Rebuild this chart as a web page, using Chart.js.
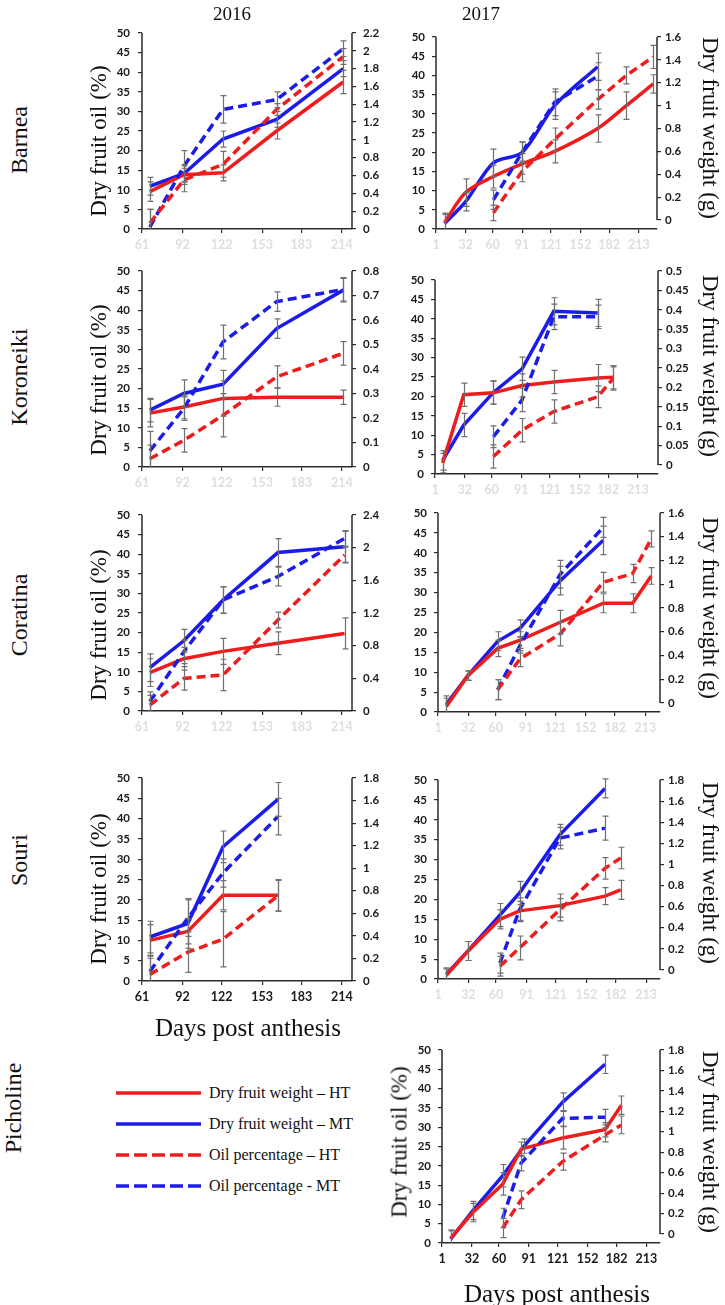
<!DOCTYPE html>
<html><head><meta charset="utf-8">
<script src="https://cdn.jsdelivr.net/npm/chart.js@4.4.1/dist/chart.umd.min.js"></script>
<style>
html,body{margin:0;padding:0;background:#fff;}
body{width:725px;height:1305px;position:relative;overflow:hidden;}
canvas{position:absolute;}
.t{position:absolute;white-space:nowrap;font-family:"Liberation Serif","Times New Roman",serif;color:#111;transform:translate(-50%,-50%);line-height:1;z-index:5;}
.rl{transform:translate(-50%,-50%) rotate(-90deg);}
.rr{transform:translate(-50%,-50%) rotate(90deg);}
.lg{position:absolute;font-family:"Liberation Serif","Times New Roman",serif;font-size:16px;color:#111;white-space:nowrap;line-height:1;transform:translateY(-50%);}
svg{position:absolute;}
</style></head><body>

<div class="t" style="left:232px;top:13px;font-size:19px;">2016</div>
<div class="t" style="left:481px;top:13px;font-size:19px;">2017</div>

<div class="t rl" style="left:19px;top:140px;font-size:24px;">Barnea</div>
<div class="t rl" style="left:19px;top:377px;font-size:24px;">Koroneiki</div>
<div class="t rl" style="left:19px;top:615px;font-size:24px;">Coratina</div>
<div class="t rl" style="left:19px;top:860px;font-size:24px;">Souri</div>
<div class="t rl" style="left:13px;top:1108px;font-size:24px;">Picholine</div>

<div class="t rl" style="left:98px;top:141px;font-size:23px;">Dry fruit oil (%)</div>
<div class="t rl" style="left:98px;top:380px;font-size:23px;">Dry fruit oil (%)</div>
<div class="t rl" style="left:98px;top:625px;font-size:23px;">Dry fruit oil (%)</div>
<div class="t rl" style="left:98px;top:889px;font-size:23px;">Dry fruit oil (%)</div>
<div class="t rl" style="left:399px;top:1142px;font-size:23px;">Dry fruit oil (%)</div>

<div class="t rr" style="left:710px;top:128px;font-size:23px;">Dry fruit weight (g)</div>
<div class="t rr" style="left:710px;top:366px;font-size:23px;">Dry fruit weight (g)</div>
<div class="t rr" style="left:710px;top:608px;font-size:23px;">Dry fruit weight (g)</div>
<div class="t rr" style="left:710px;top:873px;font-size:23px;">Dry fruit weight (g)</div>
<div class="t rr" style="left:710px;top:1142px;font-size:23px;">Dry fruit weight (g)</div>

<div class="t" style="left:248px;top:1027px;font-size:25px;">Days post anthesis</div>
<div class="t" style="left:557px;top:1293px;font-size:25px;">Days post anthesis</div>

<svg style="left:110px;top:1080px;" width="100" height="120">
  <line x1="6" y1="13" x2="91" y2="13" stroke="#ee1c1c" stroke-width="3.5"/>
  <line x1="6" y1="44" x2="91" y2="44" stroke="#1c1ce8" stroke-width="3.5"/>
  <line x1="6" y1="75" x2="91" y2="75" stroke="#ee1c1c" stroke-width="3.5" stroke-dasharray="13 5"/>
  <line x1="6" y1="106" x2="91" y2="106" stroke="#1c1ce8" stroke-width="3.5" stroke-dasharray="13 5"/>
</svg>
<div class="lg" style="left:209px;top:1093px;">Dry fruit weight – HT</div>
<div class="lg" style="left:209px;top:1124px;">Dry fruit weight – MT</div>
<div class="lg" style="left:209px;top:1155px;">Oil percentage – HT</div>
<div class="lg" style="left:209px;top:1186px;">Oil percentage - MT</div>

<script>
// ---------- axis tick labels ----------
const X_TICKS_2016 = [61, 92, 122, 153, 183, 214];
const X_TICKS_2017 = [1, 32, 60, 91, 121, 152, 182, 213];
const OIL_TICKS = [0, 5, 10, 15, 20, 25, 30, 35, 40, 45, 50];

// ---------- Barnea 2016 ----------
const BAR16_DAYS = [67, 93, 123, 164, 215];
const BAR16_WT_HT = [0.42, 0.61, 0.63, 1.10, 1.65];
const BAR16_WT_HT_SD = [0.11, 0.11, 0.09, 0.09, 0.13];
const BAR16_WT_MT = [0.48, 0.62, 1.01, 1.23, 1.80];
const BAR16_WT_MT_SD = [0.10, 0.09, 0.09, 0.09, 0.09];
const BAR16_OIL_HT = [1.5, 12.5, 16.5, 30.5, 44];
const BAR16_OIL_HT_SD = [3.5, 3, 3.3, 1.5, 2];
const BAR16_OIL_MT = [0.5, 16, 30.5, 33, 46];
const BAR16_OIL_MT_SD = [4.5, 4, 3.5, 2, 2];

// ---------- Koroneiki 2016 ----------
const KOR16_DAYS = [67, 93, 123, 164, 215];
const KOR16_WT_HT = [0.22, 0.245, 0.28, 0.285, 0.285];
const KOR16_WT_HT_SD = [0.056, 0.048, 0.072, 0.037, 0.029];
const KOR16_WT_MT = [0.232, 0.30, 0.338, 0.565, 0.722];
const KOR16_WT_MT_SD = [0.048, 0.056, 0.056, 0.04, 0.048];
const KOR16_OIL_HT = [2.1, 6.8, 13.2, 23, 29];
const KOR16_OIL_HT_SD = [3.5, 3, 5.5, 2.8, 3];
const KOR16_OIL_MT = [4.1, 14.9, 31.9, 42.2, 45.3];
const KOR16_OIL_MT_SD = [5, 3, 4.3, 2.5, 3];

// ---------- Coratina 2016 ----------
const COR16_DAYS = [67, 93, 123, 165, 216];
const COR16_WT_HT = [0.47, 0.64, 0.73, 0.83, 0.95];
const COR16_WT_HT_SD = [0.17, 0.14, 0.16, 0.14, 0.19];
const COR16_WT_MT = [0.53, 0.86, 1.36, 1.94, 2.01];
const COR16_WT_MT_SD = [0.17, 0.14, 0.16, 0.17, 0.19];
const COR16_OIL_HT = [1.5, 8.3, 9.2, 23.2, 39.8];
const COR16_OIL_HT_SD = [2.5, 3, 4, 2, 2];
const COR16_OIL_MT = [2.4, 15.1, 28.3, 34.3, 44];
const COR16_OIL_MT_SD = [2.5, 3, 3.4, 2.4, 2];

// ---------- Souri 2016 ----------
const SOU16_DAYS = [67, 96, 123, 165];
const SOU16_WT_HT = [0.36, 0.44, 0.76, 0.76];
const SOU16_WT_HT_SD = [0.14, 0.11, 0.13, 0.14];
const SOU16_WT_MT = [0.39, 0.51, 1.19, 1.61];
const SOU16_WT_MT_SD = [0.14, 0.22, 0.14, 0.15];
const SOU16_OIL_HT = [1.6, 7.1, 10.3, 21];
const SOU16_OIL_HT_SD = [4, 5, 6.8, 3.8];
const SOU16_OIL_MT = [2.3, 15.5, 26.6, 40.5];
const SOU16_OIL_MT_SD = [4, 4.5, 3.5, 4.5];

// ---------- Barnea 2017 ----------
const BAR17_WT_HT_DAYS = [10, 32, 61, 91, 125, 170, 200, 228];
const BAR17_WT_HT = [-0.02, 0.24, 0.38, 0.49, 0.60, 0.80, 1.00, 1.19];
const BAR17_WT_HT_SD = [0.08, 0.12, 0.10, 0.09, 0.10, 0.12, 0.12, 0.08];
const BAR17_WT_MT_DAYS = [10, 32, 61, 91, 125, 170];
const BAR17_WT_MT = [-0.03, 0.16, 0.50, 0.59, 1.00, 1.34];
const BAR17_WT_MT_SD = [0.08, 0.08, 0.12, 0.09, 0.12, 0.12];
const BAR17_OIL_HT_DAYS = [61, 91, 125, 170, 200, 228];
const BAR17_OIL_HT = [4.2, 15, 23.3, 33.7, 40, 44.8];
const BAR17_OIL_HT_SD = [2, 2.7, 3, 2.5, 2.2, 3];
const BAR17_OIL_MT_DAYS = [61, 91, 125, 170];
const BAR17_OIL_MT = [7.6, 20, 33, 39.8];
const BAR17_OIL_MT_SD = [2.5, 2.7, 3.5, 3.5];

// ---------- Koroneiki 2017 ----------
const KOR17_WT_HT_DAYS = [9, 31, 62, 92, 125, 171, 187];
const KOR17_WT_HT = [0.005, 0.181, 0.186, 0.205, 0.214, 0.224, 0.226];
const KOR17_WT_HT_SD = [0.025, 0.03, 0.03, 0.03, 0.03, 0.035, 0.03];
const KOR17_WT_MT_DAYS = [9, 31, 62, 92, 125, 171];
const KOR17_WT_MT = [0.012, 0.103, 0.187, 0.248, 0.396, 0.392];
const KOR17_WT_MT_SD = [0.025, 0.03, 0.03, 0.03, 0.035, 0.035];
const KOR17_OIL_HT_DAYS = [62, 92, 125, 171, 187];
const KOR17_OIL_HT = [4.5, 11.3, 16.1, 19.9, 24.6];
const KOR17_OIL_HT_SD = [3, 3, 3, 2.8, 3];
const KOR17_OIL_MT_DAYS = [62, 92, 125, 171];
const KOR17_OIL_MT = [9.6, 19.1, 40.5, 40.5];
const KOR17_OIL_MT_SD = [2.8, 3, 3.3, 3];

// ---------- Coratina 2017 ----------
const COR17_WT_HT_DAYS = [9.5, 31.5, 62, 85, 126, 170, 200, 219];
const COR17_WT_HT = [-0.03, 0.23, 0.46, 0.53, 0.68, 0.84, 0.84, 1.07];
const COR17_WT_HT_SD = [0.07, 0.04, 0.07, 0.07, 0.10, 0.08, 0.08, 0.07];
const COR17_WT_MT_DAYS = [9.5, 31.5, 62, 85, 126, 170];
const COR17_WT_MT = [-0.01, 0.23, 0.52, 0.63, 1.03, 1.37];
const COR17_WT_MT_SD = [0.07, 0.04, 0.08, 0.07, 0.12, 0.12];
const COR17_OIL_HT_DAYS = [62, 85, 126, 170, 200, 219];
const COR17_OIL_HT = [5.6, 13.4, 19.6, 32.6, 34.8, 43.5];
const COR17_OIL_HT_SD = [2.5, 2, 3, 2.5, 2.3, 2];
const COR17_OIL_MT_DAYS = [62, 85, 126, 170];
const COR17_OIL_MT = [5.6, 16.8, 34.6, 46.4];
const COR17_OIL_MT_SD = [2.5, 2, 3.5, 2.5];

// ---------- Souri 2017 ----------
const SOU17_WT_HT_DAYS = [9.5, 31.5, 64, 84, 125, 171, 187];
const SOU17_WT_HT = [-0.05, 0.18, 0.48, 0.56, 0.61, 0.70, 0.76];
const SOU17_WT_HT_SD = [0.06, 0.09, 0.09, 0.09, 0.11, 0.08, 0.09];
const SOU17_WT_MT_DAYS = [9.5, 31.5, 64, 84, 125, 171];
const SOU17_WT_MT = [-0.04, 0.18, 0.52, 0.73, 1.28, 1.72];
const SOU17_WT_MT_SD = [0.06, 0.09, 0.11, 0.11, 0.10, 0.09];
const SOU17_OIL_HT_DAYS = [64, 84, 125, 171, 187];
const SOU17_OIL_HT = [3.2, 7.8, 17.4, 27.8, 30.4];
const SOU17_OIL_HT_SD = [2.5, 3, 2.8, 2.7, 2.7];
const SOU17_OIL_MT_DAYS = [64, 84, 125, 171];
const SOU17_OIL_MT = [4, 17.4, 35.4, 37.9];
const SOU17_OIL_MT_SD = [2.5, 3, 2.7, 3];

// ---------- Picholine 2017 ----------
const PIC17_WT_HT_DAYS = [10, 33, 64, 83, 126, 170, 187];
const PIC17_WT_HT = [-0.04, 0.21, 0.49, 0.83, 0.94, 1.02, 1.26];
const PIC17_WT_HT_SD = [0.08, 0.09, 0.11, 0.07, 0.11, 0.07, 0.09];
const PIC17_WT_MT_DAYS = [10, 33, 64, 86, 126, 170];
const PIC17_WT_MT = [-0.05, 0.23, 0.57, 0.86, 1.29, 1.66];
const PIC17_WT_MT_SD = [0.08, 0.09, 0.11, 0.07, 0.09, 0.09];
const PIC17_OIL_HT_DAYS = [64, 83, 126, 170, 187];
const PIC17_OIL_HT = [3.9, 11.2, 21.1, 28, 30.6];
const PIC17_OIL_HT_SD = [2.5, 2.3, 2.2, 1.8, 2.3];
const PIC17_OIL_MT_DAYS = [64, 83, 126, 170];
const PIC17_OIL_MT = [6.5, 20.7, 32.3, 32.6];
const PIC17_OIL_MT_SD = [2.5, 2, 2, 2];

// ---------- styles ----------
const RED = '#ee1c1c', BLUE = '#1c1ce8';
const STYLE = {
  WT_HT:  {color: RED,  dash: [],     axis: 'y1'},
  WT_MT:  {color: BLUE, dash: [],     axis: 'y1'},
  OIL_HT: {color: RED,  dash: [9, 5], axis: 'y'},
  OIL_MT: {color: BLUE, dash: [9, 5], axis: 'y'}
};
const FADED = '#dedede', DARK = '#1a1a1a';

function S(kind, days, vals, sd) { return {kind, days, vals, sd}; }

// geometry: L/R = plot left/right px, T = top of left axis (50), B = x axis,
// rT / rZ = pixel of right-axis max and right-axis zero
const PANELS = [
  {L:142, R:352, T:33, B:229, rT:33, rZ:229, xMin:61, xMax:221.7, xt:X_TICKS_2016, rMax:2.2, rStep:0.2, xc:FADED, lp:8, rp:7, tension:0,
   series:[S('OIL_HT',BAR16_DAYS,BAR16_OIL_HT,BAR16_OIL_HT_SD), S('OIL_MT',BAR16_DAYS,BAR16_OIL_MT,BAR16_OIL_MT_SD),
           S('WT_HT',BAR16_DAYS,BAR16_WT_HT,BAR16_WT_HT_SD), S('WT_MT',BAR16_DAYS,BAR16_WT_MT,BAR16_WT_MT_SD)]},
  {L:142, R:352, T:271, B:467, rT:271, rZ:467, xMin:61, xMax:221.7, xt:X_TICKS_2016, rMax:0.8, rStep:0.1, xc:FADED, lp:8, rp:7, tension:0,
   series:[S('OIL_HT',KOR16_DAYS,KOR16_OIL_HT,KOR16_OIL_HT_SD), S('OIL_MT',KOR16_DAYS,KOR16_OIL_MT,KOR16_OIL_MT_SD),
           S('WT_HT',KOR16_DAYS,KOR16_WT_HT,KOR16_WT_HT_SD), S('WT_MT',KOR16_DAYS,KOR16_WT_MT,KOR16_WT_MT_SD)]},
  {L:142, R:352, T:515, B:711, rT:515, rZ:711, xMin:61, xMax:221.7, xt:X_TICKS_2016, rMax:2.4, rStep:0.2, xc:FADED, lp:8, rp:7, tension:0,
   series:[S('OIL_HT',COR16_DAYS,COR16_OIL_HT,COR16_OIL_HT_SD), S('OIL_MT',COR16_DAYS,COR16_OIL_MT,COR16_OIL_MT_SD),
           S('WT_HT',COR16_DAYS,COR16_WT_HT,COR16_WT_HT_SD), S('WT_MT',COR16_DAYS,COR16_WT_MT,COR16_WT_MT_SD)]},
  {L:142, R:352, T:778, B:981, rT:778, rZ:981, xMin:61, xMax:221.7, xt:X_TICKS_2016, rMax:1.8, rStep:0.2, xc:DARK, lp:8, rp:7, tension:0,
   series:[S('OIL_HT',SOU16_DAYS,SOU16_OIL_HT,SOU16_OIL_HT_SD), S('OIL_MT',SOU16_DAYS,SOU16_OIL_MT,SOU16_OIL_MT_SD),
           S('WT_HT',SOU16_DAYS,SOU16_WT_HT,SOU16_WT_HT_SD), S('WT_MT',SOU16_DAYS,SOU16_WT_MT,SOU16_WT_MT_SD)]},

  {L:436, R:657, T:37, B:229, rT:37, rZ:220, xMin:1, xMax:232, xt:X_TICKS_2017, rMax:1.6, rStep:0.2, xc:FADED, lp:7, rp:4, tension:0.3,
   series:[S('OIL_HT',BAR17_OIL_HT_DAYS,BAR17_OIL_HT,BAR17_OIL_HT_SD), S('OIL_MT',BAR17_OIL_MT_DAYS,BAR17_OIL_MT,BAR17_OIL_MT_SD),
           S('WT_HT',BAR17_WT_HT_DAYS,BAR17_WT_HT,BAR17_WT_HT_SD), S('WT_MT',BAR17_WT_MT_DAYS,BAR17_WT_MT,BAR17_WT_MT_SD)]},
  {L:435, R:658, T:280, B:474, rT:271, rZ:465, xMin:1, xMax:234, xt:X_TICKS_2017, rMax:0.5, rStep:0.05, xc:FADED, lp:7, rp:4, tension:0,
   series:[S('OIL_HT',KOR17_OIL_HT_DAYS,KOR17_OIL_HT,KOR17_OIL_HT_SD), S('OIL_MT',KOR17_OIL_MT_DAYS,KOR17_OIL_MT,KOR17_OIL_MT_SD),
           S('WT_HT',KOR17_WT_HT_DAYS,KOR17_WT_HT,KOR17_WT_HT_SD), S('WT_MT',KOR17_WT_MT_DAYS,KOR17_WT_MT,KOR17_WT_MT_SD)]},
  {L:438, R:660, T:513, B:712, rT:513, rZ:703, xMin:1, xMax:228, xt:X_TICKS_2017, rMax:1.6, rStep:0.2, xc:FADED, lp:7, rp:4, tension:0,
   series:[S('OIL_HT',COR17_OIL_HT_DAYS,COR17_OIL_HT,COR17_OIL_HT_SD), S('OIL_MT',COR17_OIL_MT_DAYS,COR17_OIL_MT,COR17_OIL_MT_SD),
           S('WT_HT',COR17_WT_HT_DAYS,COR17_WT_HT,COR17_WT_HT_SD), S('WT_MT',COR17_WT_MT_DAYS,COR17_WT_MT,COR17_WT_MT_SD)]},
  {L:438, R:660, T:780, B:979, rT:780, rZ:970, xMin:1, xMax:227, xt:X_TICKS_2017, rMax:1.8, rStep:0.2, xc:FADED, lp:7, rp:4, tension:0,
   series:[S('OIL_HT',SOU17_OIL_HT_DAYS,SOU17_OIL_HT,SOU17_OIL_HT_SD), S('OIL_MT',SOU17_OIL_MT_DAYS,SOU17_OIL_MT,SOU17_OIL_MT_SD),
           S('WT_HT',SOU17_WT_HT_DAYS,SOU17_WT_HT,SOU17_WT_HT_SD), S('WT_MT',SOU17_WT_MT_DAYS,SOU17_WT_MT,SOU17_WT_MT_SD)]},
  {L:442, R:660, T:1050, B:1243, rT:1050, rZ:1234, xMin:1, xMax:227, xt:X_TICKS_2017, rMax:1.8, rStep:0.2, xc:DARK, lp:7, rp:4, tension:0,
   series:[S('OIL_HT',PIC17_OIL_HT_DAYS,PIC17_OIL_HT,PIC17_OIL_HT_SD), S('OIL_MT',PIC17_OIL_MT_DAYS,PIC17_OIL_MT,PIC17_OIL_MT_SD),
           S('WT_HT',PIC17_WT_HT_DAYS,PIC17_WT_HT,PIC17_WT_HT_SD), S('WT_MT',PIC17_WT_MT_DAYS,PIC17_WT_MT,PIC17_WT_MT_SD)]}
];

const AXIS_COLOR = '#2a2a2a';
const TICK_FONT = {family: 'Lato, "Liberation Sans", sans-serif', size: 11.5, weight: 'bold'};
const XTICK_FONT = {family: 'Lato, "Liberation Sans", sans-serif', size: 12.5, weight: 'bold'};

const errorBars = {
  id: 'errorBars',
  afterDatasetsDraw(chart) {
    const ctx = chart.ctx, a = chart.chartArea;
    ctx.save();
    ctx.beginPath();
    ctx.rect(a.left - 6, a.top - 8, a.right - a.left + 12, a.bottom - a.top + 8);
    ctx.clip();
    ctx.strokeStyle = '#707070';
    ctx.lineWidth = 1.2;
    chart.data.datasets.forEach((ds, di) => {
      const meta = chart.getDatasetMeta(di);
      const ys = chart.scales[meta.yAxisID];
      meta.data.forEach((pt, i) => {
        const v = ds.data[i].y, e = ds.errs[i];
        const x = Math.round(pt.x) + 0.5;
        const yt = ys.getPixelForValue(v + e), yb = ys.getPixelForValue(v - e);
        ctx.beginPath();
        ctx.moveTo(x, yt); ctx.lineTo(x, yb);
        ctx.moveTo(x - 3, yt); ctx.lineTo(x + 3, yt);
        ctx.moveTo(x - 3, yb); ctx.lineTo(x + 3, yb);
        ctx.stroke();
      });
    });
    ctx.restore();
  }
};

// vertical axis lines, drawn only over the tick range of each axis
const axisLines = {
  id: 'axisLines',
  afterDraw(chart, args, opts) {
    const ctx = chart.ctx, yl = chart.scales.y, yr = chart.scales.y1;
    ctx.save();
    ctx.strokeStyle = AXIS_COLOR;
    ctx.lineWidth = 1.5;
    ctx.beginPath();
    ctx.moveTo(yl.right, Math.max(yl.getPixelForValue(0), chart.chartArea.bottom));
    ctx.lineTo(yl.right, yl.getPixelForValue(50));
    ctx.moveTo(yr.left, yr.getPixelForValue(0));
    ctx.lineTo(yr.left, yr.getPixelForValue(opts.rMax));
    ctx.stroke();
    ctx.restore();
  }
};

const LW = 40, RW = 42, PT = 20, BH = 30;
const fmt = v => String(Math.round(v * 100) / 100);

PANELS.forEach(p => {
  const top = Math.min(p.T, p.rT);
  const W = p.R - p.L, H = p.B - top;
  const cv = document.createElement('canvas');
  cv.width = LW + W + RW; cv.height = PT + H + BH;
  cv.style.left = (p.L - LW) + 'px';
  cv.style.top = (top - PT) + 'px';
  document.body.appendChild(cv);

  const yMax = 50 * (p.B - top) / (p.B - p.T);
  const pxPerG = (p.rZ - p.rT) / p.rMax;
  const rMin = -(p.B - p.rZ) / pxPerG;
  const rMaxAxis = p.rMax + (p.rT - top) / pxPerG;
  const rTicks = [];
  for (let i = 0; i <= Math.round(p.rMax / p.rStep); i++) rTicks.push(Math.round(i * p.rStep * 1000) / 1000);

  const datasets = p.series.map(s => {
    const st = STYLE[s.kind];
    return {
      data: s.days.map((d, i) => ({x: d, y: s.vals[i]})),
      errs: s.sd,
      borderColor: st.color,
      borderWidth: 3.5,
      borderDash: st.dash,
      pointRadius: 0,
      tension: s.kind.startsWith('WT') ? p.tension : 0,
      fill: false,
      yAxisID: st.axis
    };
  });

  const gridOpts = {drawOnChartArea: false, drawTicks: true, tickLength: 4, color: AXIS_COLOR, lineWidth: 1.2};

  new Chart(cv, {
    type: 'line',
    data: {datasets},
    options: {
      responsive: false, animation: false, devicePixelRatio: 1,
      layout: {padding: {top: PT, left: 0, right: 0, bottom: 0}},
      plugins: {legend: {display: false}, tooltip: {enabled: false}, axisLines: {rMax: p.rMax}},
      scales: {
        x: {
          type: 'linear', min: p.xMin, max: p.xMax,
          afterBuildTicks: sc => { sc.ticks = p.xt.map(v => ({value: v})); },
          afterFit: sc => { sc.height = BH; },
          ticks: {autoSkip: false, maxRotation: 0, color: p.xc, font: XTICK_FONT, padding: 4, callback: fmt},
          grid: gridOpts,
          border: {color: AXIS_COLOR, width: 1.5}
        },
        y: {
          position: 'left', min: 0, max: yMax,
          afterBuildTicks: sc => { sc.ticks = OIL_TICKS.map(v => ({value: v})); },
          afterFit: sc => { sc.width = LW; },
          ticks: {color: DARK, font: TICK_FONT, padding: p.lp, callback: fmt},
          grid: gridOpts,
          border: {display: false}
        },
        y1: {
          position: 'right', min: rMin, max: rMaxAxis,
          afterBuildTicks: sc => { sc.ticks = rTicks.map(v => ({value: v})); },
          afterFit: sc => { sc.width = RW; },
          ticks: {color: DARK, font: TICK_FONT, padding: p.rp, callback: fmt},
          grid: gridOpts,
          border: {display: false}
        }
      }
    },
    plugins: [errorBars, axisLines]
  });
});
</script>
</body></html>
